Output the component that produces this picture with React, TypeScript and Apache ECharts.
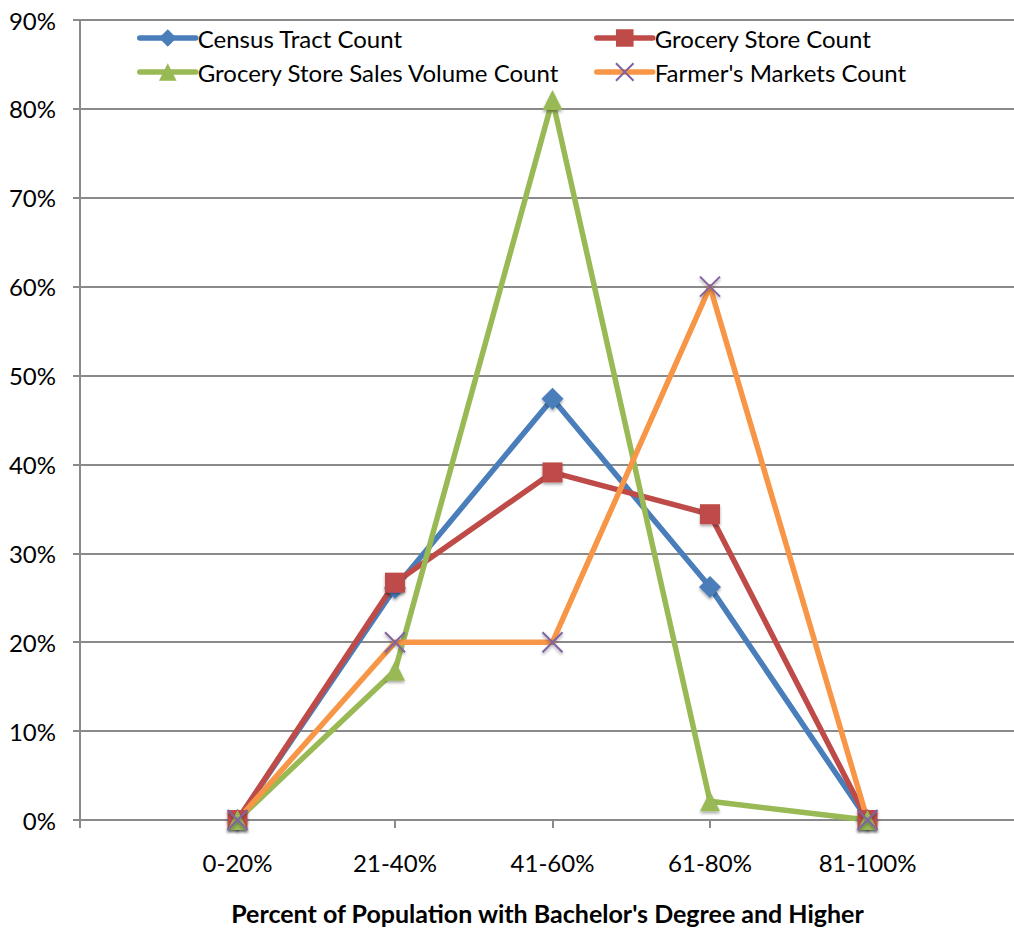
import React, { useEffect, useRef } from "react";
import * as echarts from "echarts";

const categories = ["0-20%", "21-40%", "41-60%", "61-80%", "81-100%"];
const yTicks = [0, 10, 20, 30, 40, 50, 60, 70, 80, 90];
const censusTract = [0, 26.1, 47.4, 26.2, 0];
const groceryStore = [0, 26.7, 39.1, 34.4, 0];
const salesVolume = [0, 16.8, 81.0, 2.1, 0];
const farmersMarkets = [0, 20, 20, 60, 0];

const FONT = "Lato, 'Liberation Sans', sans-serif";

export default function App() {
  const ref = useRef<HTMLDivElement>(null);
  useEffect(() => {
    if (!ref.current) return;
    const chart = echarts.init(ref.current, undefined, { renderer: "svg" });
    const pad = (arr: number[]) => [null, ...arr, null];
    const shadow = { shadowBlur: 3, shadowColor: "rgba(0,0,0,0.35)", shadowOffsetY: 2 };
    const mk = (name: string, data: number[], color: string, symbol: string, size: number, extra: any = {}) => ({
      name,
      type: "line",
      data: pad(data),
      symbol,
      symbolSize: size,
      showSymbol: true,
      lineStyle: { color, width: 5.5, cap: "round", join: "round" },
      itemStyle: { color, ...shadow, ...(extra.itemStyle || {}) },
      emphasis: { disabled: true },
      connectNulls: false,
    });
    const legendCommon = {
      orient: "vertical",
      top: 25,
      padding: 0,
      itemWidth: 56,
      itemHeight: 22,
      itemGap: 8,
      lineStyle: { width: 5.5, cap: "round" },
      textStyle: { fontFamily: FONT, fontSize: 24, color: "#000", lineHeight: 26, padding: [0, 0, 0, -3] },
    };
    chart.setOption({
      animation: false,
      grid: { left: 80, right: -11, top: 20, bottom: 108, outerBoundsMode: "none", containLabel: false },
      legend: [
        { ...legendCommon, left: 137, data: ["Census Tract Count", "Grocery Store Sales Volume Count"] },
        { ...legendCommon, left: 594, data: ["Grocery Store Count", "Farmer's Markets Count"] },
      ],
      xAxis: {
        type: "category",
        data: ["", ...categories, ""],
        boundaryGap: false,
        axisLine: { lineStyle: { color: "#8a8a8a", width: 2 } },
        axisTick: { show: true, length: 8, lineStyle: { color: "#8a8a8a", width: 2 } },
        axisLabel: { fontFamily: FONT, fontSize: 24, color: "#000", margin: 30, interval: 0 },
        name: "Percent of Population with Bachelor's Degree and Higher",
        nameLocation: "middle",
        nameGap: 80,
        nameTextStyle: { fontFamily: FONT, fontSize: 25, fontWeight: "bold", color: "#000", padding: [0, 10, 0, 0] },
      },
      yAxis: {
        type: "value",
        min: yTicks[0],
        max: yTicks[yTicks.length - 1],
        interval: 10,
        axisLine: { show: true, lineStyle: { color: "#8a8a8a", width: 2 } },
        axisTick: { show: true, length: 7, lineStyle: { color: "#8a8a8a", width: 2 } },
        splitLine: { lineStyle: { color: "#8a8a8a", width: 2 } },
        axisLabel: { fontFamily: FONT, fontSize: 24, color: "#000", margin: 24, formatter: "{value}%" },
      },
      series: [
        mk("Census Tract Count", censusTract, "#4A7EBB", "diamond", 22),
        mk("Grocery Store Count", groceryStore, "#BE4B48", "rect", 20),
        mk("Grocery Store Sales Volume Count", salesVolume, "#98B954", "triangle", 20),
        mk("Farmer's Markets Count", farmersMarkets, "#F79646", "path://M0,0L10,10M10,0L0,10", 20, {
          itemStyle: { color: "#7F64A0", borderColor: "#7F64A0", borderWidth: 2 },
        }),
      ],
    });
    return () => chart.dispose();
  }, []);
  return (
    <div
      ref={ref}
      style={{ position: "absolute", left: 0, top: 0, width: 1014, height: 928, background: "#fff" }}
    />
  );
}
